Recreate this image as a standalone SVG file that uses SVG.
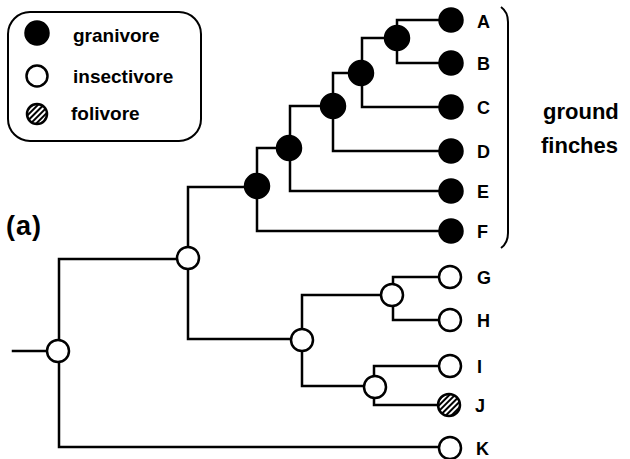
<svg xmlns="http://www.w3.org/2000/svg" width="630" height="459" viewBox="0 0 630 459">
<style>
.ln{fill:none;stroke:#000;stroke-width:2.5;stroke-linecap:square}
.g{fill:#000;stroke:#000;stroke-width:2.5}
.ins{fill:#fff;stroke:#000;stroke-width:2.5}
.fol{fill:url(#hatch);stroke:#000;stroke-width:2.5}
.lab{font-family:"Liberation Sans",Arial,sans-serif;font-weight:bold;font-size:18px;fill:#000}
.leg{font-family:"Liberation Sans",Arial,sans-serif;font-weight:bold;font-size:19px;fill:#000}
.big{font-family:"Liberation Sans",Arial,sans-serif;font-weight:bold;font-size:22px;fill:#000}
</style>
<defs>
<pattern id="hatch" patternUnits="userSpaceOnUse" width="4" height="4" patternTransform="rotate(45)">
<rect width="4" height="4" fill="#fff"/>
<line x1="1" y1="0" x2="1" y2="4" stroke="#000" stroke-width="2"/>
</pattern>
</defs>
<rect width="630" height="459" fill="#fff"/>
<g id="legend">
<rect x="8" y="12" width="193" height="129" rx="22" fill="none" stroke="#000" stroke-width="2"/>
<circle cx="37" cy="33" r="11.5" class="g"/>
<circle cx="37" cy="76" r="10.5" class="ins"/>
<circle cx="37" cy="114" r="10" class="fol"/>
<text x="73" y="42" class="leg">granivore</text>
<text x="73" y="83" class="leg">insectivore</text>
<text x="71" y="120" class="leg">folivore</text>
</g>
<g id="connectors">
<path class="ln" d="M13 351 H58"/>
<path class="ln" d="M450 259 M188 259 H59 V447 H450"/>
<path class="ln" d="M257 187 H188 V339 H302"/>
<path class="ln" d="M289 148 H257 V231 H450"/>
<path class="ln" d="M333 106 H290 V191 H450"/>
<path class="ln" d="M361 73 H333 V151 H450"/>
<path class="ln" d="M397 38 H362 V107 H450"/>
<path class="ln" d="M450 20 H397 V63 H450"/>
<path class="ln" d="M392 295 H302 V386 H375"/>
<path class="ln" d="M450 277 H393 V320 H450"/>
<path class="ln" d="M450 366 H374 V405 H450"/>
<path d="M501 7 Q508 12 508 22 L508 233 Q508 243 501 248" fill="none" stroke="#000" stroke-width="2"/>
</g>
<g id="internal-nodes">
<circle id="n-root" cx="58" cy="351" r="11" class="ins"/>
<circle id="n1" cx="188" cy="258" r="11" class="ins"/>
<circle id="n-ABCDEF" cx="257" cy="186" r="12" class="g"/>
<circle id="n-ABCDE" cx="289" cy="148" r="12" class="g"/>
<circle id="n-ABCD" cx="333" cy="106" r="12" class="g"/>
<circle id="n-ABC" cx="361" cy="73" r="12" class="g"/>
<circle id="n-AB" cx="397" cy="38" r="12" class="g"/>
<circle id="n-GHIJ" cx="302" cy="340" r="11" class="ins"/>
<circle id="n-GH" cx="392" cy="295" r="11" class="ins"/>
<circle id="n-IJ" cx="375" cy="387" r="11" class="ins"/>
</g>
<g id="leaf-A"><circle cx="451" cy="20" r="11.5" class="g"/><text x="477" y="28" class="lab">A</text></g>
<g id="leaf-B"><circle cx="451" cy="63" r="11.5" class="g"/><text x="477" y="70" class="lab">B</text></g>
<g id="leaf-C"><circle cx="451" cy="107" r="11.5" class="g"/><text x="477" y="114" class="lab">C</text></g>
<g id="leaf-D"><circle cx="451" cy="151" r="11.5" class="g"/><text x="477" y="158" class="lab">D</text></g>
<g id="leaf-E"><circle cx="451" cy="191" r="11.5" class="g"/><text x="477" y="198" class="lab">E</text></g>
<g id="leaf-F"><circle cx="451" cy="231" r="11.5" class="g"/><text x="477" y="238" class="lab">F</text></g>
<g id="leaf-G"><circle cx="450" cy="277" r="11" class="ins"/><text x="477" y="284" class="lab">G</text></g>
<g id="leaf-H"><circle cx="450" cy="320" r="11" class="ins"/><text x="477" y="327" class="lab">H</text></g>
<g id="leaf-I"><circle cx="450" cy="366" r="11" class="ins"/><text x="477" y="373" class="lab">I</text></g>
<g id="leaf-J"><circle cx="449" cy="405" r="11" class="fol"/><text x="475" y="412" class="lab">J</text></g>
<g id="leaf-K"><circle cx="450" cy="448" r="11" class="ins"/><text x="476" y="455" class="lab">K</text></g>
<g id="group-label">
<text x="543" y="119" class="big">ground</text>
<text x="541" y="153" class="big">finches</text>
</g>
<text x="6" y="235" class="big" style="font-size:27px;letter-spacing:1px">(a)</text>
</svg>
